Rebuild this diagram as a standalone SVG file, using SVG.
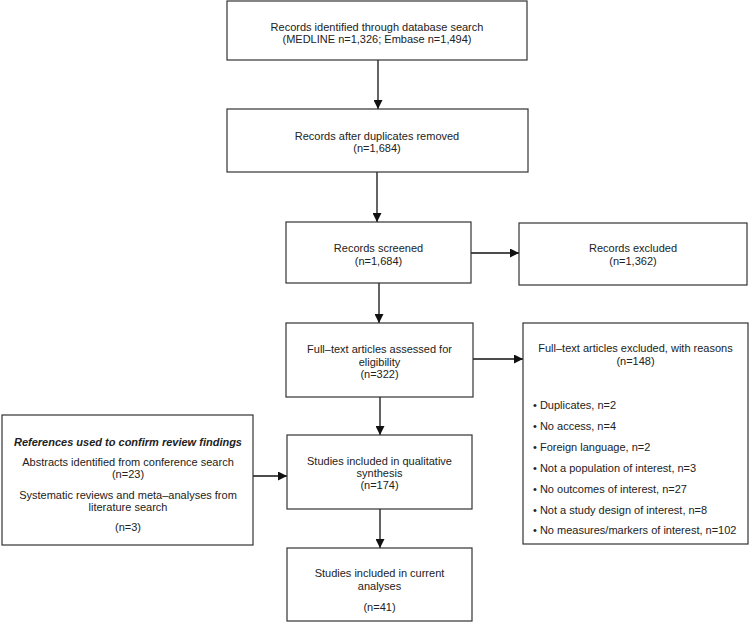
<svg xmlns="http://www.w3.org/2000/svg" width="750" height="623" viewBox="0 0 750 623">
<defs>
<style>
.box{fill:#fff;stroke:#333;stroke-width:1.2}
.t{font-family:"Liberation Sans",Arial,sans-serif;font-size:11px;fill:#222;text-anchor:middle}
.l{text-anchor:start}
.h{font-weight:bold;font-style:italic}
.c{stroke:#111;stroke-width:1.3;fill:none;marker-end:url(#ah)}
</style>
<marker id="ah" markerUnits="userSpaceOnUse" markerWidth="9" markerHeight="9" refX="9" refY="4.5" viewBox="0 0 9 9" orient="auto">
<path d="M0,0 L9,4.5 L0,9 z" fill="#111"/>
</marker>
</defs>
<rect width="750" height="623" fill="#fff"/>
<g id="connectors">
<line class="c" x1="378" y1="60" x2="378" y2="109"/>
<line class="c" x1="377" y1="172" x2="377" y2="222"/>
<line class="c" x1="379" y1="283" x2="379" y2="323"/>
<line class="c" x1="380" y1="397" x2="380" y2="435"/>
<line class="c" x1="380" y1="509" x2="380" y2="548"/>
<line class="c" x1="471" y1="253" x2="519" y2="253"/>
<line class="c" x1="473" y1="359" x2="523" y2="359"/>
<line class="c" x1="253" y1="476" x2="287" y2="476"/>
</g>
<g id="identified">
<rect class="box" x="227" y="1" width="300" height="59"/>
<text class="t" x="377" y="30.5">Records identified through database search</text>
<text class="t" x="377" y="43">(MEDLINE n=1,326; Embase n=1,494)</text>
</g>
<g id="duplicates">
<rect class="box" x="227" y="109" width="301" height="63"/>
<text class="t" x="377" y="139.5">Records after duplicates removed</text>
<text class="t" x="377" y="152">(n=1,684)</text>
</g>
<g id="screened">
<rect class="box" x="286" y="222" width="185" height="61"/>
<text class="t" x="378.5" y="251.5">Records screened</text>
<text class="t" x="378.5" y="264.5">(n=1,684)</text>
</g>
<g id="excluded">
<rect class="box" x="519" y="223" width="228" height="62"/>
<text class="t" x="633" y="251.5">Records excluded</text>
<text class="t" x="633" y="264.5">(n=1,362)</text>
</g>
<g id="fulltext">
<rect class="box" x="286" y="323" width="187" height="74"/>
<text class="t" x="379.5" y="353">Full–text articles assessed for</text>
<text class="t" x="379.5" y="365.5">eligibility</text>
<text class="t" x="379.5" y="377.5">(n=322)</text>
</g>
<g id="reasons">
<rect class="box" x="523" y="323" width="225" height="221"/>
<text class="t" x="635.5" y="352">Full–text articles excluded, with reasons</text>
<text class="t" x="635.5" y="365">(n=148)</text>
<text class="t l" x="533" y="409">• Duplicates, n=2</text>
<text class="t l" x="533" y="430">• No access, n=4</text>
<text class="t l" x="533" y="451">• Foreign language, n=2</text>
<text class="t l" x="533" y="472">• Not a population of interest, n=3</text>
<text class="t l" x="533" y="493">• No outcomes of interest, n=27</text>
<text class="t l" x="533" y="513.5">• Not a study design of interest, n=8</text>
<text class="t l" x="533" y="534">• No measures/markers of interest, n=102</text>
</g>
<g id="references">
<rect class="box" x="2" y="415" width="251" height="130"/>
<text class="t h" x="128" y="445.5">References used to confirm review findings</text>
<text class="t" x="128" y="466">Abstracts identified from conference search</text>
<text class="t" x="128" y="477.5">(n=23)</text>
<text class="t" x="128" y="499">Systematic reviews and meta–analyses from</text>
<text class="t" x="128" y="511">literature search</text>
<text class="t" x="128" y="531">(n=3)</text>
</g>
<g id="qualitative">
<rect class="box" x="287" y="435" width="185" height="74"/>
<text class="t" x="379.5" y="465">Studies included in qualitative</text>
<text class="t" x="379.5" y="477">synthesis</text>
<text class="t" x="379.5" y="489">(n=174)</text>
</g>
<g id="current">
<rect class="box" x="287" y="548" width="185" height="73"/>
<text class="t" x="379.5" y="577">Studies included in current</text>
<text class="t" x="379.5" y="589.5">analyses</text>
<text class="t" x="379.5" y="610.5">(n=41)</text>
</g>
</svg>
